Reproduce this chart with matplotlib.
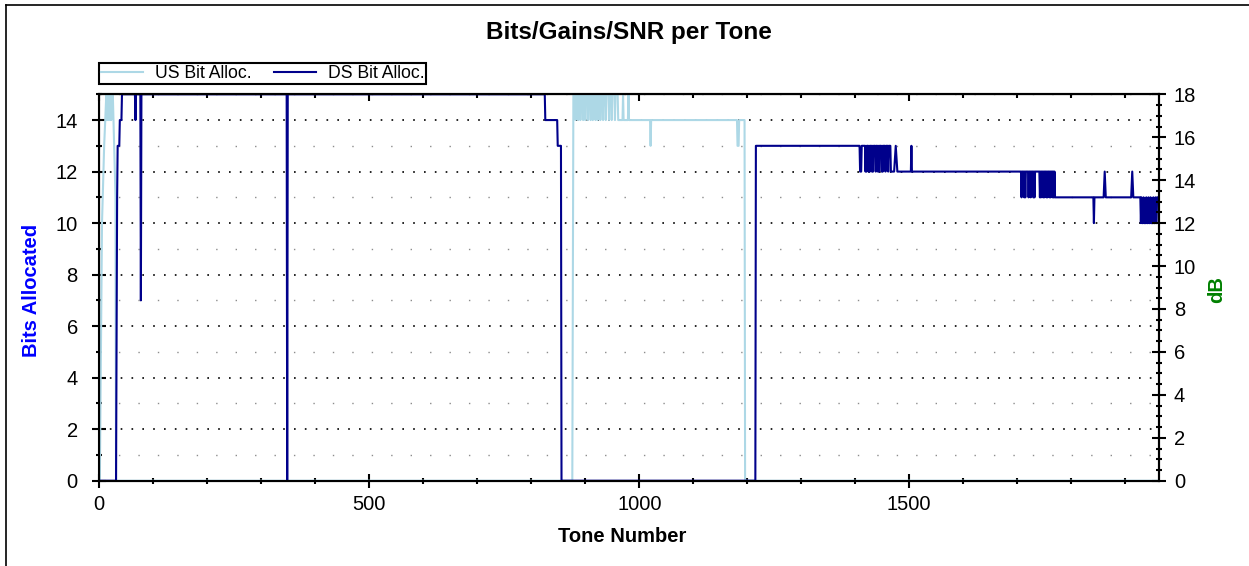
import matplotlib.pyplot as plt
from matplotlib.lines import Line2D
from matplotlib.ticker import MultipleLocator, NullFormatter

plt.rcParams['font.family'] = ['Liberation Sans', 'DejaVu Sans']

# (tone, bits)
us_alloc = [(0, 0), (1, 0), (5, 10), (9, 13), (11, 14), (13, 15), (14, 14), (15, 15), (16, 14),
            (17, 15), (18, 14), (19, 15), (20, 14), (21, 15), (22, 14), (24, 15), (25, 15),
            (30, 11), (31, 0),
            (876, 0), (878, 15), (881, 15), (882, 14), (883, 15), (886, 15), (887, 14), (888, 15),
            (890, 15), (891, 14), (892, 15), (895, 15), (896, 14), (897, 15), (899, 15), (900, 14),
            (901, 15), (904, 15), (905, 14), (906, 15), (909, 15), (910, 14), (911, 15), (913, 15),
            (914, 14), (915, 15), (918, 15), (919, 14), (920, 15), (922, 15), (923, 14), (924, 15),
            (927, 15), (928, 14), (929, 15), (932, 15), (933, 14), (934, 15), (937, 15), (938, 14),
            (939, 15), (943, 15), (944, 14), (945, 15), (948, 15), (949, 14), (950, 15), (954, 15),
            (955, 14), (956, 15), (960, 15), (961, 14), (969, 14), (970, 15), (971, 14), (979, 14),
            (980, 15), (981, 14), (1020, 14), (1021, 13), (1022, 14), (1181, 14), (1182, 13),
            (1184, 13), (1185, 14), (1195, 14), (1196, 0), (1962, 0)]

ds_alloc = [(0, 0), (31, 0), (33, 11), (34, 13), (37, 13), (38, 14), (41, 14), (42, 15), (66, 15),
            (67, 14), (68, 15), (76, 15), (77, 7), (78, 15), (347, 15), (348, 0), (349, 15),
            (825, 15), (826, 14), (848, 14), (849, 13), (855, 13), (856, 0), (1215, 0), (1216, 13),
            (1408, 13), (1409, 12), (1411, 12), (1412, 13), (1418, 13), (1419, 12), (1420, 13),
            (1421, 12), (1422, 13), (1424, 13), (1425, 12), (1426, 13), (1427, 12), (1428, 13),
            (1430, 13), (1431, 12), (1432, 13), (1433, 12), (1434, 13), (1437, 13), (1438, 12),
            (1439, 13), (1441, 13), (1442, 12), (1443, 13), (1444, 12), (1445, 13), (1448, 13),
            (1449, 12), (1450, 13), (1451, 12), (1452, 13), (1455, 13), (1456, 12), (1457, 13),
            (1460, 13), (1461, 12), (1462, 13), (1465, 13), (1466, 12), (1472, 12), (1475, 13),
            (1478, 12), (1503, 12), (1504, 13), (1505, 12),
            (1707, 12), (1708, 11), (1709, 12), (1712, 12), (1713, 11), (1714, 12), (1715, 11),
            (1716, 12), (1720, 12), (1721, 11), (1722, 12), (1724, 12), (1725, 11), (1726, 12),
            (1729, 12), (1730, 11), (1731, 12), (1732, 11), (1733, 12), (1741, 12), (1742, 11),
            (1743, 12), (1744, 11), (1745, 12), (1747, 12), (1748, 11), (1749, 12), (1750, 11),
            (1751, 12), (1753, 12), (1754, 11), (1755, 12), (1756, 11), (1757, 12), (1759, 12),
            (1760, 11), (1761, 12), (1762, 11), (1763, 12), (1765, 12), (1766, 11), (1767, 12),
            (1768, 11), (1769, 12), (1770, 11),
            (1841, 11), (1842, 10), (1843, 11), (1860, 11), (1862, 12), (1864, 11), (1911, 11),
            (1913, 12), (1915, 11), (1928, 11), (1929, 10), (1930, 11), (1931, 10), (1933, 10),
            (1934, 11), (1935, 10), (1938, 10), (1939, 11), (1940, 10), (1942, 10), (1943, 11),
            (1944, 10), (1946, 10), (1947, 11), (1948, 10), (1951, 10), (1952, 11), (1953, 10),
            (1955, 10), (1956, 11), (1957, 10), (1958, 10), (1959, 11), (1962, 11)]

us_tones, us_bits = zip(*us_alloc)
ds_tones, ds_bits = zip(*ds_alloc)

W, H = 1249, 566
fig = plt.figure(figsize=(W / 100, H / 100), dpi=100)
ax = fig.add_axes([99.3 / W, 1 - 480.7 / H, 1059.4 / W, 386.4 / H])

ax.plot(us_tones, us_bits, color='#ADD8E6', lw=1.5, label='US Bit Alloc.')
ax.plot(ds_tones, ds_bits, color='#00008B', lw=1.5, label='DS Bit Alloc.')

ax.set_xlim(0, 1962)
ax.set_ylim(0, 15)
ax.xaxis.set_major_locator(MultipleLocator(500))
ax.xaxis.set_minor_locator(MultipleLocator(100))
ax.yaxis.set_major_locator(MultipleLocator(2))
ax.yaxis.set_minor_locator(MultipleLocator(1))

ax.yaxis.grid(True, which='major', color='black', linestyle=(0, (1, 5.5)), linewidth=1.2)
ax.yaxis.grid(True, which='minor', color='#8c8c8c', linestyle=(0, (1, 13)), linewidth=1.0)
ax.set_axisbelow(True)

ax.tick_params(axis='x', which='major', direction='inout', length=10, width=1.5,
               labelsize=14.5, pad=5)
ax.tick_params(axis='x', which='minor', direction='inout', length=4.5, width=1.5)
ax.tick_params(axis='y', which='major', direction='inout', length=10, width=1.5,
               labelsize=14.5, pad=10.5, right=False)
ax.tick_params(axis='y', which='minor', direction='inout', length=4.5, width=1.5, right=False)
for s in ax.spines.values():
    s.set_linewidth(1.5)

top = ax.secondary_xaxis('top')
top.xaxis.set_major_locator(MultipleLocator(500))
top.xaxis.set_minor_locator(MultipleLocator(100))
top.xaxis.set_major_formatter(NullFormatter())
top.tick_params(which='major', direction='in', length=5, width=1.5)
top.tick_params(which='minor', direction='in', length=3, width=1.5)
top.spines['top'].set_linewidth(1.5)

ax2 = ax.twinx()
ax2.set_ylim(0, 18)
ax2.yaxis.set_major_locator(MultipleLocator(2))
ax2.yaxis.set_minor_locator(MultipleLocator(0.5))
ax2.tick_params(which='major', direction='inout', length=10, width=1.5, labelsize=14.5, pad=6)
ax2.tick_params(which='minor', direction='inout', length=5, width=1.5)
ax2.spines['right'].set_linewidth(1.5)

fig.text(629 / W, 1 - 32 / H, 'Bits/Gains/SNR per Tone', ha='center', va='center',
         fontsize=17.5, fontweight='bold')
fig.text(622 / W, 1 - 537 / H, 'Tone Number', ha='center', va='center',
         fontsize=14.5, fontweight='bold')
fig.text(32 / W, 1 - 290 / H, 'Bits Allocated', ha='center', va='center', rotation=90,
         fontsize=14.5, fontweight='bold', color='#0000FF')
fig.text(1217 / W, 1 - 290 / H, 'dB', ha='center', va='center', rotation=90,
         fontsize=14.5, fontweight='bold', color='#008000')

leg = fig.legend(handles=ax.get_lines(), loc='upper left', ncol=2,
                 bbox_to_anchor=(99 / W, 1 - 63 / H), borderaxespad=0, fontsize=12.7,
                 fancybox=False, edgecolor='black', framealpha=1, handlelength=2.4,
                 handletextpad=0.66, columnspacing=1.26, borderpad=0.1)
leg.get_frame().set_linewidth(1.5)

# outer frame of the panel
fig.add_artist(Line2D([6 / W, 6 / W], [0, 1 - 5 / H], transform=fig.transFigure,
                      color='black', lw=1.2))
fig.add_artist(Line2D([6 / W, 1], [1 - 5 / H, 1 - 5 / H], transform=fig.transFigure,
                      color='black', lw=1.2))

fig.savefig('out.png', dpi=100)
